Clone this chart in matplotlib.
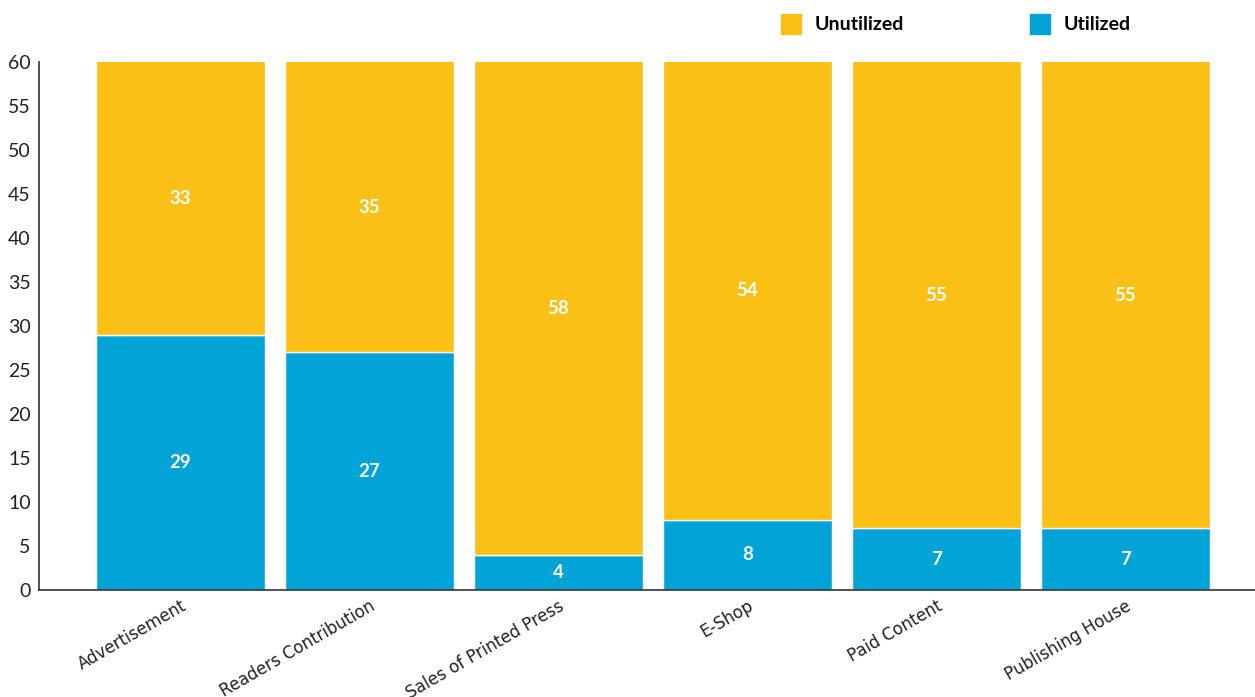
import matplotlib
matplotlib.use("Agg")
import matplotlib.pyplot as plt
from matplotlib.lines import Line2D

categories = ["Advertisement", "Readers Contribution", "Sales of Printed Press",
              "E-Shop", "Paid Content", "Publishing House"]
utilized = [29, 27, 4, 8, 7, 7]
unutilized = [33, 35, 58, 54, 55, 55]
y_ticks = [0, 5, 10, 15, 20, 25, 30, 35, 40, 45, 50, 55, 60]

YELLOW = "#FBC015"
BLUE = "#02A3D7"

plt.rcParams['font.family'] = ['Lato', 'DejaVu Sans']

fig = plt.figure(figsize=(12.55, 6.97), dpi=100)
ax = fig.add_axes([39/1255, 107/697, 1 - 39/1255, 528/697])

x = list(range(len(categories)))
w = 0.894
ax.bar(x, utilized, width=w, color=BLUE, edgecolor="white", linewidth=1)
ax.bar(x, unutilized, width=w, bottom=utilized, color=YELLOW, edgecolor="white", linewidth=1)

ymax = 60
ax.set_ylim(0, ymax)
ax.set_xlim(-0.749, 5.685)
ax.set_yticks(y_ticks)
ax.set_xticks(x)
ax.set_xticklabels(categories, rotation=30, ha="right", rotation_mode="anchor",
                   fontsize=12, family=['DejaVu Sans'])
ax.tick_params(axis="x", length=0, pad=5, colors="#222222")
ax.tick_params(axis="y", length=0, pad=6, labelsize=14, colors="#222222")

for s in ["top", "right"]:
    ax.spines[s].set_visible(False)
for s in ["left", "bottom"]:
    ax.spines[s].set_color("#333333")
    ax.spines[s].set_linewidth(1.2)

for i in x:
    u = utilized[i]
    ax.text(i, u / 2, str(u), ha="center", va="center", color="white",
            fontsize=13.5, fontweight="bold")
    top = min(u + unutilized[i], ymax)
    ax.text(i, (u + top) / 2, str(unutilized[i]), ha="center", va="center",
            color="white", fontsize=13.5, fontweight="bold")

handles = [Line2D([], [], marker="s", linestyle="none", markersize=15,
                  markerfacecolor=YELLOW, markeredgecolor=YELLOW),
           Line2D([], [], marker="s", linestyle="none", markersize=15,
                  markerfacecolor=BLUE, markeredgecolor=BLUE)]
fig.legend(handles, ["Unutilized", "Utilized"], loc="center left",
           bbox_to_anchor=(772/1255, 1 - 25/697), ncol=2, frameon=False,
           prop={"weight": "bold", "size": 14}, handletextpad=0.2,
           columnspacing=6.0, borderaxespad=0, borderpad=0)

fig.savefig("out.png", dpi=100)
